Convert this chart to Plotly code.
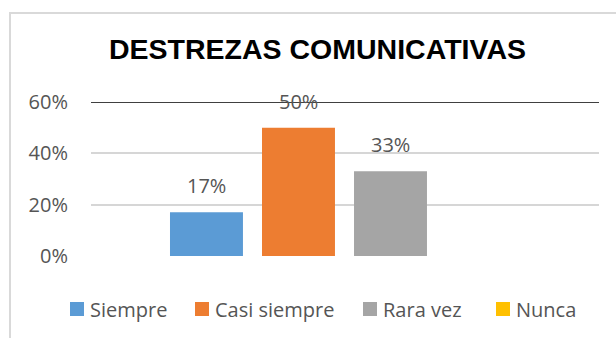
import plotly.graph_objects as go

# Survey results: communication skills
categories = ["Siempre", "Casi siempre", "Rara vez", "Nunca"]
values = [0.17, 0.50, 0.33, 0.0]
colors = ["#5b9bd5", "#ed7d31", "#a5a5a5", "#ffc000"]
y_ticks = [0, 0.2, 0.4, 0.6]
title_text = "DESTREZAS COMUNICATIVAS"

W, H = 616, 338
L, R, T, B = 91, 17, 102, 82
PW, PH = W - L - R, H - T - B


def px_x(px):
    return (px - L) / PW


def px_y(py):
    return (H - B - py) / PH


TEXT_GREY = "#555555"
FONT = "Open Sans"

fig = go.Figure(
    go.Bar(
        x=categories,
        y=values,
        marker=dict(color=colors, line=dict(width=0)),
        showlegend=False,
        hoverinfo="skip",
    )
)

# value labels above the bars
annotations = []
for cat, val in zip(categories, values):
    if val > 0:
        annotations.append(dict(
            x=cat, y=val, xref="x", yref="y",
            text=f"{round(val * 100):d}%",
            showarrow=False, yanchor="bottom", yshift=11,
            font=dict(family=FONT, size=20, color=TEXT_GREY),
        ))

# legend row along the bottom
legend_x_px = [70, 195, 363, 496]
legend_y_px = 309
sq = 14
shapes = []
for cat, col, lx in zip(categories, colors, legend_x_px):
    shapes.append(dict(
        type="rect", xref="paper", yref="paper",
        x0=px_x(lx), x1=px_x(lx + sq),
        y0=px_y(legend_y_px + sq / 2), y1=px_y(legend_y_px - sq / 2),
        fillcolor=col, line=dict(width=0),
    ))
    annotations.append(dict(
        x=px_x(lx + sq + 4), y=px_y(legend_y_px), xref="paper", yref="paper",
        text=cat, showarrow=False, xanchor="left", yanchor="middle",
        font=dict(family=FONT, size=20, color=TEXT_GREY),
    ))

# chart frame
shapes.append(dict(
    type="rect", xref="paper", yref="paper",
    x0=px_x(10), x1=px_x(630), y0=px_y(360), y1=px_y(13),
    line=dict(color="#d9d9d9", width=2), fillcolor="rgba(0,0,0,0)",
    layer="below",
))
# dark rule across the top of the plot
shapes.append(dict(
    type="line", xref="paper", yref="y",
    x0=0, x1=1, y0=0.6, y1=0.6,
    line=dict(color="#404040", width=2),
))

fig.update_layout(
    width=W, height=H,
    margin=dict(l=L, r=R, t=T, b=B),
    paper_bgcolor="white", plot_bgcolor="white",
    bargap=0.207,
    title=dict(
        text=f"<b>{title_text}</b>",
        x=317.5 / W, xanchor="center",
        y=1 - 49 / H, yanchor="middle", yref="container",
        font=dict(family="Liberation Sans", size=28.5, color="black"),
    ),
    xaxis=dict(
        type="category", range=[-1.255, 4.266],
        showticklabels=False, showgrid=False, zeroline=False, showline=False,
    ),
    yaxis=dict(
        range=[0, 0.6], tickvals=y_ticks, tickformat=".0%",
        showgrid=True, gridcolor="#d6d6d6", gridwidth=1.6,
        zeroline=False, showline=False, ticks="",
        ticklabelstandoff=22,
        tickfont=dict(family=FONT, size=20, color=TEXT_GREY),
    ),
    shapes=shapes,
    annotations=annotations,
)

fig.write_html("out.html")
